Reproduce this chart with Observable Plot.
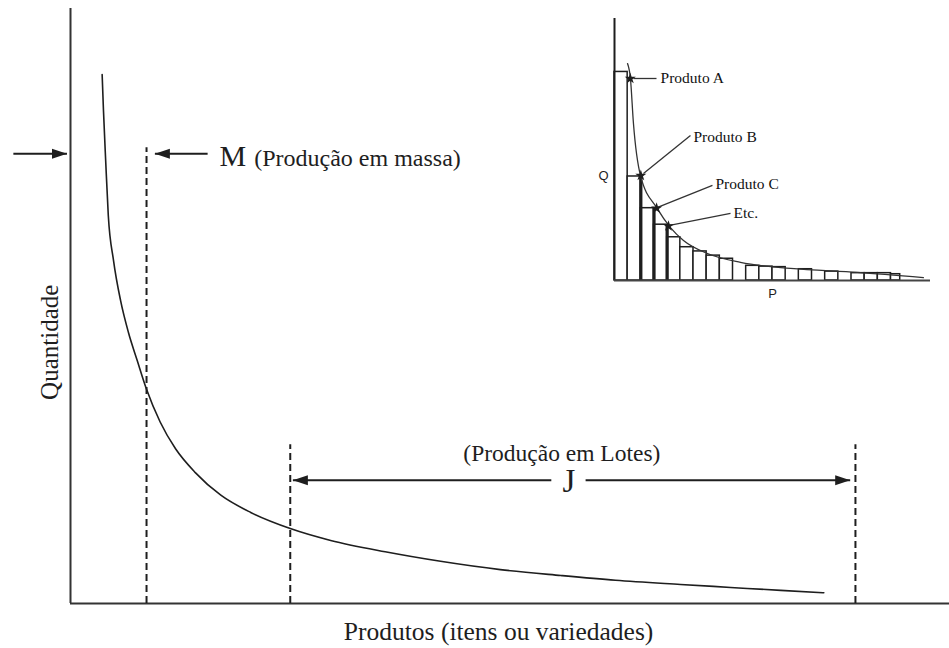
<!DOCTYPE html>
<html><head><meta charset="utf-8">
<script src="https://cdn.jsdelivr.net/npm/d3@7"></script>
<script src="https://cdn.jsdelivr.net/npm/@observablehq/plot@0.6"></script>
<style>
html,body{margin:0;padding:0;background:#fff;}
#chart{position:relative;width:949px;height:648px;overflow:hidden;}
#main{position:absolute;left:0;top:0;}
#inset{position:absolute;left:590px;top:0;}
</style></head><body>
<div id="chart"><div id="main"></div><div id="inset"></div></div>
<script>
// ---------- main chart data (products vs quantity, arbitrary units 0..100) ----------
const curveX = [3.6, 3.75, 4.0, 4.3, 4.9, 5.7, 6.6, 7.6, 8.65, 10.2, 11.95, 14.2, 17.1, 20.5, 25.0, 29.6, 35.8, 42.1, 48.9, 55.8, 62.0, 69.4, 75.1, 80.8, 85.7];
const curveQ = [88.9, 82.9, 74.5, 65.2, 57.6, 50.9, 45.5, 40.8, 36.0, 30.5, 26.0, 22.0, 18.2, 15.3, 12.6, 10.6, 8.7, 7.1, 5.7, 4.7, 3.9, 3.2, 2.7, 2.2, 1.8];
const boundaryX = [8.65, 25.0, 89.3];      // M, J start, J end
const boundaryTop = [76.6, 26.7, 26.7];
const arrowFrom = [-6.5, 15.6, 54.7, 58.6];
const arrowTo = [-0.4, 9.6, 25.3, 88.7];
const arrowY = [75.6, 75.6, 20.7, 20.7];
const labelM = "M";
const labelMassa = "(Produção em massa)";
const labelLotes = "(Produção em Lotes)";
const labelJ = "J";
const labelY = "Quantidade";
const labelX = "Produtos (itens ou variedades)";

// ---------- inset data ----------
const barStart = [0, 1, 2, 3, 4, 5, 6, 7, 8, 10, 11, 12, 14, 16, 18, 19, 20, 21];
const barWidth = [1, 1, 1, 1, 1, 1, 1, 1, 1, 1, 1, 1, 1, 1, 1, 1, 1, 0.7];
const barQ = [79.6, 39.7, 27.6, 21.3, 16.5, 12.7, 11.1, 9.5, 8.3, 5.6, 5.3, 5.1, 4.3, 3.4, 2.8, 2.8, 2.8, 2.4];
const insetCurveX = [0.99, 1.21, 1.44, 1.97, 3.24, 4.25, 5.24, 7.06, 9.57, 13.36, 18.45, 23.46];
const insetCurveQ = [82.8, 77.1, 59.9, 40.1, 27.5, 20.2, 15.3, 10.3, 6.9, 4.6, 3.1, 1.1];
const productNames = ["Produto A", "Produto B", "Produto C", "Etc."];
const productX = [1.2, 2.0, 3.2, 4.1];
const productQ = [77.1, 40.1, 27.6, 20.8];
const leaderX1 = [1.44, 2.2, 3.27, 4.18];
const leaderQ1 = [77.1, 40.8, 27.9, 21.0];
const leaderX2 = [3.19, 5.77, 7.44, 8.81];
const leaderQ2 = [77.1, 55.3, 36.3, 25.6];
const labelPosX = [3.5, 6.0, 7.67, 9.04];
const labelPosQ = [77.1, 54.6, 37.0, 25.6];

const ink = "#1e1e1e";
const serif = "'Liberation Serif', 'Times New Roman', serif";

const curve = curveX.map((x, i) => ({x, q: curveQ[i]}));
const bounds = boundaryX.map((x, i) => ({x, top: boundaryTop[i]}));
const arrows = arrowFrom.map((x1, i) => ({x1, x2: arrowTo[i], y: arrowY[i]}));

const headSymbol = {
  draw(ctx) { ctx.moveTo(0, 0); ctx.lineTo(-15, -5); ctx.lineTo(-15, 5); ctx.closePath(); }
};

const main = Plot.plot({
  width: 949, height: 648,
  marginLeft: 70, marginRight: 0, marginTop: 8, marginBottom: 45,
  x: {domain: [0, 100], axis: null},
  y: {domain: [0, 100], axis: null},
  style: {background: "transparent", overflow: "visible"},
  marks: [
    Plot.ruleX([0], {y1: 0, y2: 100, stroke: "#333", strokeWidth: 2}),
    Plot.ruleY([0], {x1: 0, x2: 100, stroke: "#333", strokeWidth: 2}),
    Plot.ruleX(bounds, {x: "x", y1: 0, y2: "top", stroke: ink, strokeWidth: 2, strokeDasharray: "7,4"}),
    Plot.line(curve, {x: "x", y: "q", curve: "monotone-x", stroke: ink, strokeWidth: 1.6}),
    Plot.link(arrows, {x1: "x1", x2: "x2", y1: "y", y2: "y", stroke: ink, strokeWidth: 2}),
    Plot.dot(arrows, {x: "x2", y: "y", symbol: headSymbol, rotate: d => d.x2 > d.x1 ? 0 : 180, fill: ink, stroke: "none", r: 5}),
    Plot.text([labelM], {x: 16.95, y: 73.6, text: d => d, textAnchor: "start", lineAnchor: "bottom", fontSize: 30, fontFamily: serif, fill: ink}),
    Plot.text([labelMassa], {x: 20.9, y: 73.6, text: d => d, textAnchor: "start", lineAnchor: "bottom", fontSize: 24, fontFamily: serif, fill: ink}),
    Plot.text([labelLotes], {x: 55.9, y: 23.9, text: d => d, textAnchor: "middle", lineAnchor: "bottom", fontSize: 23.5, fontFamily: serif, fill: ink}),
    Plot.text([labelJ], {x: 56.7, y: 18.7, text: d => d, textAnchor: "middle", lineAnchor: "bottom", fontSize: 33, fontFamily: serif, fill: ink}),
    Plot.text([labelY], {x: -2.3, y: 43.9, text: d => d, rotate: -90, textAnchor: "middle", lineAnchor: "middle", fontSize: 25, fontFamily: serif, fill: ink}),
    Plot.text([labelX], {x: 48.7, y: -6.2, text: d => d, textAnchor: "middle", lineAnchor: "bottom", fontSize: 25.5, fontFamily: serif, fill: ink})
  ]
});
document.getElementById("main").appendChild(main);

// ---------- inset ----------
const bars = barStart.map((x, i) => ({x1: x, x2: x + barWidth[i], q: barQ[i]}));
const thick = [1, 2, 3].map(i => ({x: barStart[i] + barWidth[i], q: barQ[i]}));
const icurve = insetCurveX.map((x, i) => ({x, q: insetCurveQ[i]}));
const prods = productNames.map((name, i) => ({
  name, x: productX[i], q: productQ[i],
  lx1: leaderX1[i], lq1: leaderQ1[i], lx2: leaderX2[i], lq2: leaderQ2[i],
  tx: labelPosX[i], tq: labelPosQ[i]
}));

const inset = Plot.plot({
  width: 350, height: 310,
  marginLeft: 24, marginRight: 10, marginTop: 18, marginBottom: 30,
  x: {domain: [0, 24], axis: null},
  y: {domain: [0, 100], axis: null},
  style: {background: "transparent", overflow: "visible"},
  marks: [
    Plot.rect(bars, {x1: "x1", x2: "x2", y1: 0, y2: "q", fill: "white", stroke: ink, strokeWidth: 1.5}),
    Plot.ruleX(thick, {x: "x", y1: 0, y2: "q", stroke: ink, strokeWidth: 3.2}),
    Plot.ruleX([0], {y1: 0, y2: 100, stroke: ink, strokeWidth: 2}),
    Plot.ruleY([0], {x1: 0, x2: 24, stroke: "#444", strokeWidth: 2}),
    Plot.line(icurve, {x: "x", y: "q", curve: "monotone-x", stroke: "#333", strokeWidth: 1.3}),
    Plot.link(prods, {x1: "lx1", y1: "lq1", x2: "lx2", y2: "lq2", stroke: "#333", strokeWidth: 1.3}),
    Plot.dot(prods, {x: "x", y: "q", symbol: "star", r: 3.5, fill: ink, stroke: "none"}),
    Plot.text(prods, {x: "tx", y: "tq", text: "name", textAnchor: "start", lineAnchor: "middle", fontSize: 15.5, fontFamily: serif, fill: "#111"}),
    Plot.text(["Q"], {x: -0.84, y: 40.1, text: d => d, textAnchor: "middle", lineAnchor: "middle", fontSize: 13, fontFamily: "'Liberation Sans', Arial, sans-serif", fill: ink}),
    Plot.text(["P"], {x: 12.0, y: -5.0, text: d => d, textAnchor: "middle", lineAnchor: "middle", fontSize: 13, fontFamily: "'Liberation Sans', Arial, sans-serif", fill: ink})
  ]
});
document.getElementById("inset").appendChild(inset);
</script></body></html>
